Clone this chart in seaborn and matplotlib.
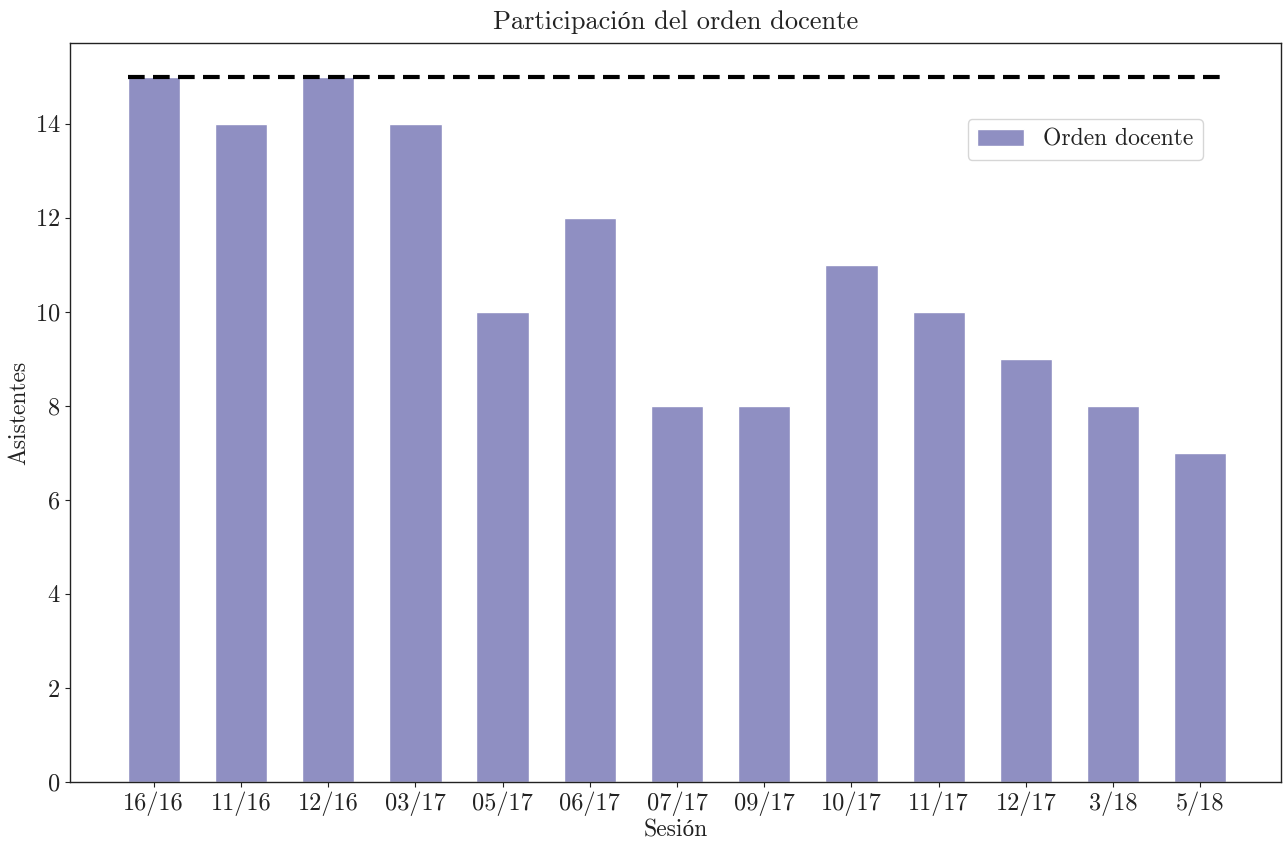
import numpy as np
import pandas as pd
import seaborn as sns
import matplotlib
matplotlib.use('Agg')
import matplotlib.pyplot as plt

# datos de asistencia por sesion
sesiones = ['16/16', '11/16', '12/16', '03/17', '05/17', '06/17', '07/17',
            '09/17', '10/17', '11/17', '12/17', '3/18', '5/18']
asistentes = [15, 14, 15, 14, 10, 12, 8, 8, 11, 10, 9, 8, 7]
total_docentes = 15

sns.set_style('ticks')
plt.rcParams['font.family'] = ['cmr10', 'Liberation Serif']
plt.rcParams['mathtext.fontset'] = 'cm'
plt.rcParams['axes.formatter.use_mathtext'] = True
plt.rcParams['axes.unicode_minus'] = False
plt.rcParams['text.color'] = '#222222'
plt.rcParams['axes.labelcolor'] = '#222222'
plt.rcParams['xtick.color'] = '#222222'
plt.rcParams['ytick.color'] = '#222222'
plt.rcParams['axes.edgecolor'] = '#222222'

df = pd.DataFrame({'sesion': sesiones, 'asistentes': asistentes})

fig = plt.figure(figsize=(12.84, 8.43), dpi=100)
ax = fig.add_axes([0.0545, 0.0724, 0.9435, 0.8766])

sns.barplot(data=df, x='sesion', y='asistentes', color='#8f8fc2',
            saturation=1, width=0.6, label='Orden docente', ax=ax)
ax.hlines(total_docentes, -0.3, len(sesiones) - 0.7, colors='black',
          linestyles=(0, (4, 2)), linewidth=3)

ax.set_xlim(-0.96, 12.93)
ax.set_ylim(0, 15.72)
ax.set_yticks(np.arange(0, 15, 2))
ax.tick_params(labelsize=17.5)
ax.set_xlabel('Sesión', fontsize=17, labelpad=2)
ax.set_ylabel('Asistentes', fontsize=17, labelpad=3)
ax.set_title('Participación del orden docente', fontsize=19, pad=10)
for s in ax.spines.values():
    s.set_visible(True)
    s.set_linewidth(1)
ax.legend(loc='upper right', bbox_to_anchor=(0.945, 0.913), fontsize=17,
          fancybox=True)

plt.savefig('out.png', dpi=100)
